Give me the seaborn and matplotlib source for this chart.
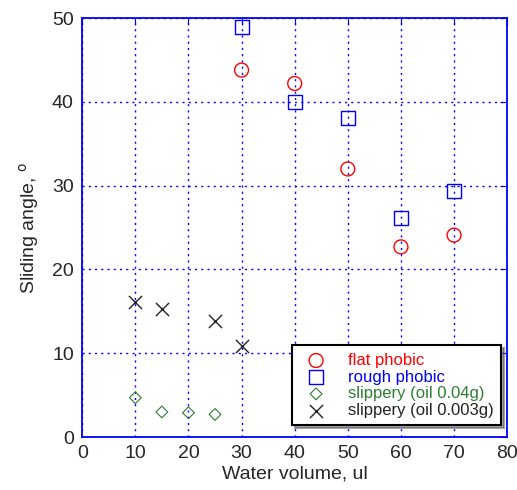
import pandas as pd
import seaborn as sns
import matplotlib.pyplot as plt

# Data

flat_x = [30, 40, 50, 60, 70]
flat_y = [43.8, 42.2, 32.0, 22.7, 24.1]

rough_x = [30, 40, 50, 60, 70]
rough_y = [48.9, 40.0, 38.1, 26.1, 29.4]

oil04_x = [10, 15, 20, 25]
oil04_y = [4.7, 3.0, 2.9, 2.7]

oil003_x = [10, 15, 25, 30]
oil003_y = [16.1, 15.3, 13.9, 10.9]

x_ticks = [0, 10, 20, 30, 40, 50, 60, 70, 80]
y_ticks = [0, 10, 20, 30, 40, 50]

sns.set_style('white')
plt.rcParams['font.family'] = ['Liberation Sans', 'DejaVu Sans']

fig = plt.figure(figsize=(5.17, 4.90), dpi=100)
ax = fig.add_axes([0.159, 0.108, 0.822, 0.855])

series = [
    ('flat phobic', flat_x, flat_y, 'o', 'red', 100, 1.0),
    ('rough phobic', rough_x, rough_y, 's', 'blue', 100, 1.0),
    ('slippery (oil 0.04g)', oil04_x, oil04_y, 'D', '#2e7d32', 36, 0.8),
    ('slippery (oil 0.003g)', oil003_x, oil003_y, 'x', '#222222', 90, 1.0),
]

for label, xs, ys, marker, color, size, lw in series:
    d = pd.DataFrame({'x': xs, 'y': ys})
    if marker == 'x':
        sns.scatterplot(x='x', y='y', data=d, marker=marker, color=color,
                        s=size, linewidth=lw, label=label, ax=ax, zorder=3)
    else:
        sns.scatterplot(x='x', y='y', data=d, marker=marker, s=size,
                        facecolor='none', edgecolor=color, linewidth=lw,
                        label=label, ax=ax, zorder=3)

ax.set_xlim(0, 80)
ax.set_ylim(0, 50)
ax.set_xticks(x_ticks)
ax.set_yticks(y_ticks)
ax.tick_params(direction='in', length=5, color='blue', labelsize=14,
               top=True, right=True, pad=6)
ax.grid(True, color='blue', linestyle=(0, (1.5, 3)), linewidth=1)
for sp in ax.spines.values():
    sp.set_color('blue')
    sp.set_linewidth(1.3)

ax.set_xlabel('Water volume, ul', fontsize=14, labelpad=2)
ax.set_ylabel(r'Sliding angle, $^{\mathrm{o}}$', fontsize=14, labelpad=8)

leg = ax.legend(loc='lower right', bbox_to_anchor=(1.005, 0.008),
                fontsize=12, frameon=True, fancybox=False, shadow=True,
                edgecolor='black', framealpha=1, borderpad=0.45,
                labelspacing=0.1, handletextpad=0.9,
                labelcolor=['red', 'blue', '#2e7d32', '#222222'])
leg.get_frame().set_linewidth(1.5)

plt.savefig('out.png', dpi=100)
